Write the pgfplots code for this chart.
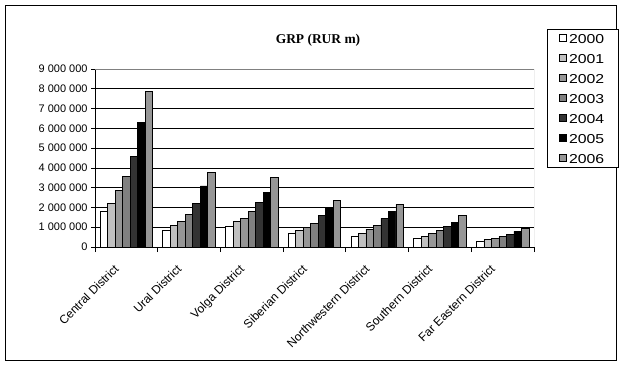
\documentclass[border=0pt]{standalone}
\usepackage{pgfplots}
\pgfplotsset{compat=1.18}
\usepackage{pgfplotstable}
\usepackage{fontspec}
\setmainfont{Liberation Sans}
\newfontfamily\titlefont{Liberation Serif}
\newfontfamily\legfont[FakeStretch=1.22]{Liberation Sans}
\definecolor{c2000}{HTML}{FFFFFF}
\definecolor{c2001}{HTML}{C0C0C0}
\definecolor{c2002}{HTML}{969696}
\definecolor{c2003}{HTML}{808080}
\definecolor{c2004}{HTML}{333333}
\definecolor{c2005}{HTML}{000000}
\definecolor{c2006}{HTML}{969696}
\definecolor{bordergray}{HTML}{808080}

\pgfplotstableread{
x y2000 y2001 y2002 y2003 y2004 y2005 y2006
0 1810000 2210000 2870000 3580000 4590000 6280000 7850000
1 840000 1100000 1300000 1660000 2210000 3090000 3780000
2 1050000 1300000 1450000 1810000 2260000 2780000 3530000
3 690000 840000 1000000 1200000 1600000 2010000 2360000
4 540000 690000 900000 1100000 1450000 1810000 2160000
5 440000 540000 690000 840000 1050000 1250000 1600000
6 290000 390000 440000 540000 640000 790000 950000
}\grp

\begin{document}
\begin{tikzpicture}[x=1bp,y=1bp]
\useasboundingbox (0,0) rectangle (623,366);
\draw[black, line width=1bp] (5.5,5.5) rectangle (616.5,360.5);
\node[font=\titlefont\bfseries\fontsize{13.5}{15}\selectfont] at (318,326) {GRP (RUR m)};
\begin{axis}[
  at={(95bp,119bp)}, anchor=south west,
  scale only axis, width=439bp, height=178bp,
  ybar=0pt, bar width=7.5bp,
  xmin=-0.5, xmax=6.5, ymin=0, ymax=9000000,
  xtick={0,1,2,3,4,5,6},
  xticklabels={Central District, Ural District, Volga District, Siberian District, Northwestern District, Southern District, Far Eastern District},
  major x tick style={draw=none},
  minor xtick={-0.5,0.5,1.5,2.5,3.5,4.5,5.5,6.5},
  ytick={0,1000000,2000000,3000000,4000000,5000000,6000000,7000000,8000000,9000000},
  ymajorgrids, grid style={black, line width=0.75bp},
  axis x line*=bottom, axis y line*=left,
  axis line style={black, line width=0.75bp, -},
  tick align=outside, major tick length=4bp, minor tick length=5bp,
  tick style={black, line width=0.75bp},
  scaled y ticks=false,
  yticklabel style={/pgf/number format/fixed, /pgf/number format/1000 sep={\ }, /pgf/number format/assume math mode=true, font=\fontsize{11}{13}\selectfont},
  xticklabel style={xshift=-13bp, yshift=-8bp, rotate=45, anchor=north east, font=\fontsize{12}{14}\selectfont},
  legend style={at={(axis description cs:1.0296,1.225)}, anchor=north west, draw=black, line width=0.75bp,
    font=\legfont\fontsize{13}{15}\selectfont, row sep=6bp, inner xsep=12bp, inner ysep=2bp,
    nodes={inner sep=2bp, text height=10bp, text depth=0bp}},
  legend cell align=left,
  legend image code/.code={\draw[#1, line width=0.75bp] (0bp,-3.5bp) rectangle (7bp,3.5bp);},
  every axis plot/.append style={draw=black, line width=0.75bp},
]
\addplot[fill=c2000] table[x=x,y=y2000]{\grp};
\addplot[fill=c2001] table[x=x,y=y2001]{\grp};
\addplot[fill=c2002] table[x=x,y=y2002]{\grp};
\addplot[fill=c2003] table[x=x,y=y2003]{\grp};
\addplot[fill=c2004] table[x=x,y=y2004]{\grp};
\addplot[fill=c2005] table[x=x,y=y2005]{\grp};
\addplot[fill=c2006] table[x=x,y=y2006]{\grp};
\legend{2000,2001,2002,2003,2004,2005,2006}
\draw[bordergray, line width=0.75bp] (rel axis cs:0,1) -- (rel axis cs:1,1) -- (rel axis cs:1,0);
\end{axis}
\end{tikzpicture}
\end{document}
